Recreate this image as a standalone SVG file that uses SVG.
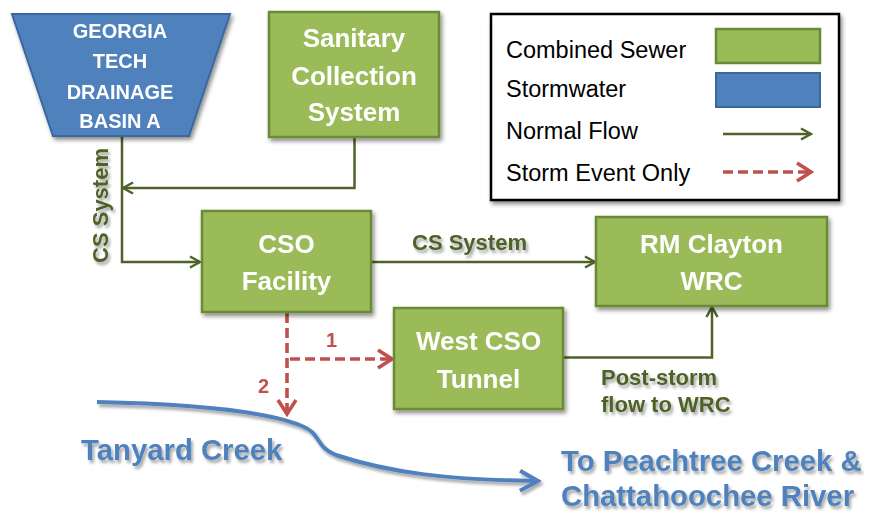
<svg xmlns="http://www.w3.org/2000/svg" width="870" height="512" viewBox="0 0 870 512">
<defs>
<filter id="sh" x="-20%" y="-20%" width="150%" height="150%">
<feDropShadow dx="2" dy="3" stdDeviation="2" flood-color="#000" flood-opacity="0.45"/>
</filter>
<filter id="tsh" x="-10%" y="-20%" width="130%" height="160%">
<feDropShadow dx="2" dy="3" stdDeviation="1.5" flood-color="#000" flood-opacity="0.35"/>
</filter>
<marker id="ag" markerWidth="14" markerHeight="14" viewBox="0 0 14 14" refX="12" refY="7" orient="auto" markerUnits="userSpaceOnUse">
<path d="M2,1.5 L12,7 L2,12.5" fill="none" stroke="#4f6228" stroke-width="2.5"/>
</marker>
<marker id="ar" markerWidth="20" markerHeight="22" viewBox="0 0 20 22" refX="17" refY="11" orient="auto" markerUnits="userSpaceOnUse">
<path d="M3,2 L17,11 L3,20" fill="none" stroke="#c0504d" stroke-width="3.6"/>
</marker>
<marker id="ab" markerWidth="24" markerHeight="24" viewBox="0 0 24 24" refX="20" refY="12" orient="auto" markerUnits="userSpaceOnUse">
<path d="M2,2 L20,12 L2,22" fill="none" stroke="#4f81bd" stroke-width="4"/>
</marker>
</defs>
<style>
.g{fill:#9bbb59;stroke:#6a8a37;stroke-width:2.5}
.b{fill:#4f81bd;stroke:#3b679c;stroke-width:2}
.wt{font-family:"Liberation Sans",Arial,sans-serif;font-weight:bold;fill:#fff;text-anchor:middle}
.gl{font-family:"Liberation Sans",Arial,sans-serif;font-weight:bold;fill:#4f6228;font-size:22px}
.lg{font-family:"Liberation Sans",Arial,sans-serif;fill:#000;font-size:23.5px}
.nf{fill:none;stroke:#4f6228;stroke-width:2.5}
.sf{fill:none;stroke:#c0504d;stroke-width:3.6;stroke-dasharray:10,5}
.rn{font-family:"Liberation Sans",Arial,sans-serif;font-weight:bold;fill:#c0504d;font-size:20px}
.bl{font-family:"Liberation Sans",Arial,sans-serif;font-weight:bold;fill:#4f81bd;font-size:29.3px}
</style>
<rect width="870" height="512" fill="#fff"/>

<g id="legend">
<rect x="491" y="14" width="348" height="186" fill="#fff" stroke="#000" stroke-width="2.5" filter="url(#sh)"/>
<text class="lg" x="506" y="58">Combined Sewer</text>
<text class="lg" x="506" y="97">Stormwater</text>
<text class="lg" x="506" y="139">Normal Flow</text>
<text class="lg" x="506" y="181">Storm Event Only</text>
<rect class="g" x="716" y="29" width="104" height="34" stroke-width="2"/>
<rect class="b" x="716" y="73" width="104" height="34"/>
<line class="nf" x1="723" y1="134" x2="811" y2="134" marker-end="url(#ag)"/>
<line class="sf" x1="723" y1="172" x2="811" y2="172" marker-end="url(#ar)"/>
</g>

<g id="connectors">
<polyline class="nf" points="354.5,137 354.5,188 123,188" marker-end="url(#ag)"/>
<polyline class="nf" points="122,136 122,262 200,262" marker-end="url(#ag)"/>
<line class="nf" x1="371" y1="262" x2="595" y2="262" marker-end="url(#ag)"/>
<polyline class="nf" points="563,357.5 712,357.5 712,307" marker-end="url(#ag)"/>
<line class="sf" x1="287" y1="313" x2="287" y2="414" marker-end="url(#ar)"/>
<line class="sf" x1="290" y1="359" x2="392" y2="359" marker-end="url(#ar)"/>
<path d="M97,402 C200,404 268,412 302,426 C322,434 314,446 336,455 C390,473 450,480 538,481" fill="none" stroke="#4f81bd" stroke-width="4" marker-end="url(#ab)" filter="url(#tsh)"/>
<g filter="url(#tsh)">
<text class="gl" transform="translate(108,205.5) rotate(-90)" text-anchor="middle">CS System</text>
<text class="gl" x="412" y="250">CS System</text>
<text class="gl" x="601" y="385">Post-storm</text>
<text class="gl" x="601" y="412">flow to WRC</text>
</g>
<text class="rn" x="326" y="347">1</text>
<text class="rn" x="258" y="393">2</text>
</g>

<g id="basin">
<polygon class="b" points="12,14 230,14 189,136 53,136" filter="url(#sh)"/>
<text class="wt" x="120" y="38" font-size="20">GEORGIA</text>
<text class="wt" x="120" y="68" font-size="20">TECH</text>
<text class="wt" x="120" y="98.5" font-size="20">DRAINAGE</text>
<text class="wt" x="120" y="128" font-size="20">BASIN A</text>
</g>

<g id="sanitary">
<rect class="g" x="269" y="12" width="170" height="125" filter="url(#sh)"/>
<text class="wt" x="354" y="47" font-size="26">Sanitary</text>
<text class="wt" x="354" y="84.5" font-size="26">Collection</text>
<text class="wt" x="354" y="121" font-size="26">System</text>
</g>

<g id="cso">
<rect class="g" x="202" y="211" width="169" height="101" filter="url(#sh)"/>
<text class="wt" x="286.5" y="253" font-size="26">CSO</text>
<text class="wt" x="286.5" y="290" font-size="26">Facility</text>
</g>

<g id="rmclayton">
<rect class="g" x="596" y="217" width="231" height="89" filter="url(#sh)"/>
<text class="wt" x="711.5" y="253" font-size="26">RM Clayton</text>
<text class="wt" x="711.5" y="290" font-size="26">WRC</text>
</g>

<g id="tunnel">
<rect class="g" x="394" y="308" width="169" height="101" filter="url(#sh)"/>
<text class="wt" x="478.5" y="350" font-size="26">West CSO</text>
<text class="wt" x="478.5" y="388" font-size="26">Tunnel</text>
</g>

<g id="labels" filter="url(#tsh)">
<text class="bl" x="81" y="460">Tanyard Creek</text>
<text class="bl" x="561" y="471">To Peachtree Creek &amp;</text>
<text class="bl" x="561" y="506">Chattahoochee River</text>
</g>
</svg>
